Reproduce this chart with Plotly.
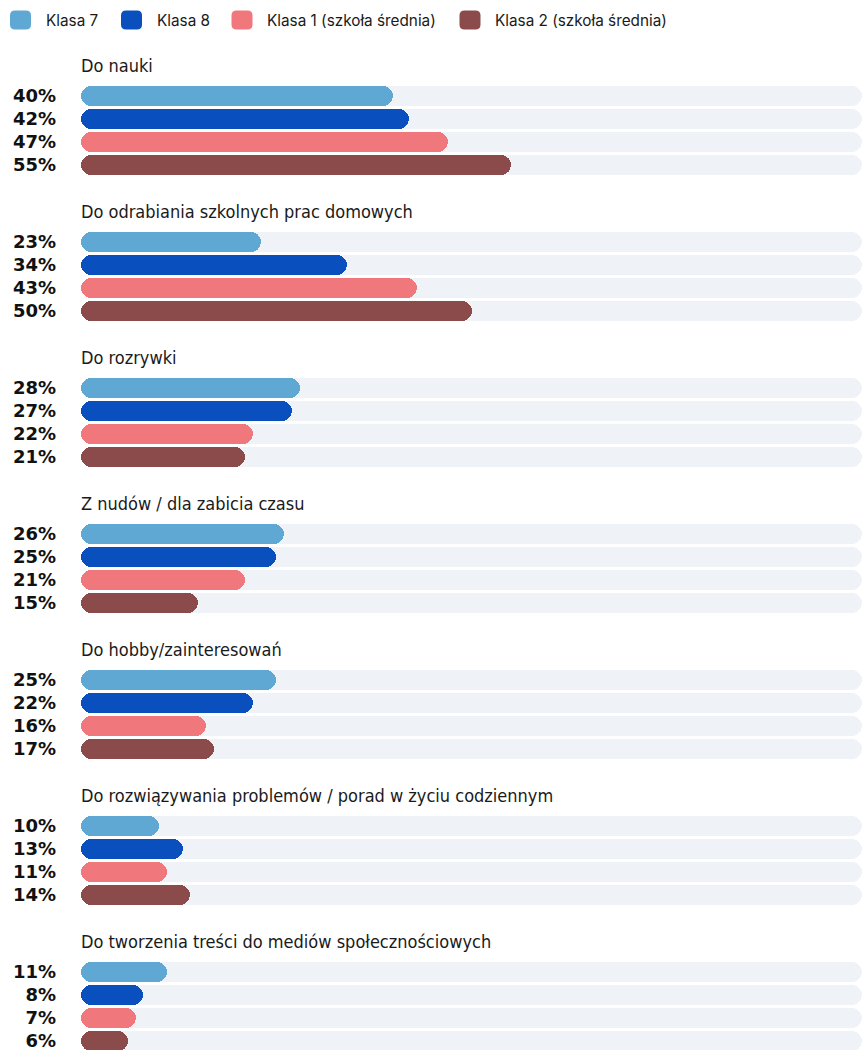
import plotly.graph_objects as go

categories = [
    "Do nauki",
    "Do odrabiania szkolnych prac domowych",
    "Do rozrywki",
    "Z nudów / dla zabicia czasu",
    "Do hobby/zainteresowań",
    "Do rozwiązywania problemów / porad w życiu codziennym",
    "Do tworzenia treści do mediów społecznościowych",
]
series_names = ["Klasa 7", "Klasa 8", "Klasa 1 (szkoła średnia)", "Klasa 2 (szkoła średnia)"]
klasa7 = [40, 23, 28, 26, 25, 10, 11]
klasa8 = [42, 34, 27, 25, 22, 13, 8]
klasa1 = [47, 43, 22, 21, 16, 11, 7]
klasa2 = [55, 50, 21, 15, 17, 14, 6]
series_values = [klasa7, klasa8, klasa1, klasa2]
colors = ["#60A8D4", "#0950BE", "#F0787C", "#8B4B4A"]
track_color = "#EFF2F7"

W, H = 862, 1050
ML = 81
PX_PER_UNIT = 23.0
GROUP_PITCH = 146.0 / PX_PER_UNIT
FIRST_PX = 96.0

n_g = len(categories)
n_s = len(series_names)

def ypos(g, s):
    return g * GROUP_PITCH + s

fig = go.Figure()

all_y = [ypos(g, s) for g in range(n_g) for s in range(n_s)]
full = [100] * len(all_y)
fig.add_trace(go.Bar(
    y=all_y, x=full, base=[0] * len(all_y),
    orientation="h", width=0.9, marker=dict(color=track_color, cornerradius="50%", line_width=0),
    hoverinfo="skip", showlegend=False,
))

for s in range(n_s):
    ys = [ypos(g, s) for g in range(n_g)]
    vals = series_values[s]
    fig.add_trace(go.Bar(
        y=ys, x=vals, base=[0] * len(vals),
        orientation="h", width=0.9, name=series_names[s],
        marker=dict(color=colors[s], cornerradius="50%", line_width=0),
        hovertemplate="%{x}%<extra>" + series_names[s] + "</extra>",
        showlegend=False,
    ))

tickvals, ticktext = [], []
for g in range(n_g):
    for s in range(n_s):
        tickvals.append(ypos(g, s))
        ticktext.append(f"{series_values[s][g]}%")

annotations = []
for g, cat in enumerate(categories):
    annotations.append(dict(
        x=0, xref="paper", y=ypos(g, 0) - 1.34, yref="y", xshift=-2, text=cat, showarrow=False,
        xanchor="left", yanchor="middle",
        font=dict(family="Liberation Sans Narrow, DejaVu Sans Condensed, sans-serif", size=18, color="#1a1a1a"),
    ))

legend_cx = [20.5, 131.5, 242, 470]
legend_cy = 20
shapes = []
for s in range(n_s):
    ax = (legend_cx[s] - ML) / (W - ML)
    ay = 1 - legend_cy / H
    r = 5
    w2, h2 = 10.5, 9.5
    path = (f"M{-w2 + r},{-h2} L{w2 - r},{-h2} Q{w2},{-h2} {w2},{-h2 + r} "
            f"L{w2},{h2 - r} Q{w2},{h2} {w2 - r},{h2} L{-w2 + r},{h2} "
            f"Q{-w2},{h2} {-w2},{h2 - r} L{-w2},{-h2 + r} Q{-w2},{-h2} {-w2 + r},{-h2} Z")
    shapes.append(dict(type="path", xref="paper", yref="paper", xsizemode="pixel", ysizemode="pixel",
                       xanchor=ax, yanchor=ay, path=path, fillcolor=colors[s], line=dict(width=0)))
    annotations.append(dict(
        x=ax, xref="paper", y=ay, yref="paper", xshift=23, text=series_names[s], showarrow=False,
        xanchor="left", yanchor="middle",
        font=dict(family="Inter, Roboto, sans-serif", size=15.3, color="#1a1a1a"),
    ))

y_top = -FIRST_PX / PX_PER_UNIT
y_bot = (H - FIRST_PX) / PX_PER_UNIT

fig.update_layout(
    width=W, height=H,
    margin=dict(l=ML, r=0, t=0, b=0, autoexpand=False),
    paper_bgcolor="white", plot_bgcolor="white",
    barmode="overlay", bargap=0,
    showlegend=False,
    xaxis=dict(range=[0, 100], visible=False, fixedrange=True),
    yaxis=dict(range=[y_bot, y_top], tickvals=tickvals, ticktext=ticktext, showgrid=False,
               zeroline=False, showline=False, ticks="", ticklabelstandoff=24,
               ticklabeloverflow="allow",
               tickfont=dict(family="DejaVu Sans", size=18, color="#111111", weight="bold"),
               fixedrange=True, automargin=False),
    annotations=annotations,
    shapes=shapes,
)

fig.write_html("out.html", config={"displayModeBar": False},
               post_script="document.body.style.margin='0';document.body.style.overflow='hidden';")
